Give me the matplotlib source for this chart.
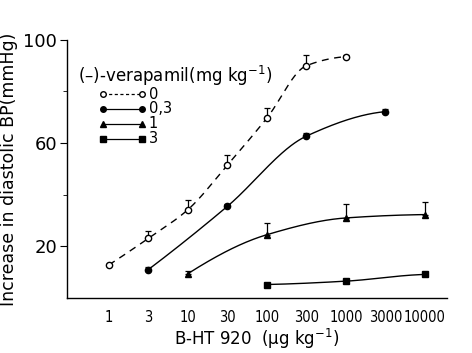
import numpy as np
import matplotlib
matplotlib.use("Agg")
import matplotlib.pyplot as plt

# ---- data ----
x_labels = ["1", "3", "10", "30", "100", "300", "1000", "3000", "10000"]

s0_x = [0, 1, 2, 3, 4, 5, 6]            # indices into x_labels
s0_y = [12.8, 23.1, 34.2, 51.5, 69.7, 90.0, 93.5]
s0_e = [0.0, 2.7, 3.6, 3.9, 3.9, 4.1, 0.7]

s1_x = [1, 3, 5, 7]
s1_y = [11.0, 35.5, 62.7, 72.2]
s1_e = [1.0, 1.0, 1.2, 1.2]

s2_x = [2, 4, 6, 8]
s2_y = [9.4, 24.5, 31.0, 32.3]
s2_e = [1.0, 4.5, 5.3, 4.9]

s3_x = [4, 6, 8]
s3_y = [5.2, 6.5, 9.1]
s3_e = [0.0, 1.0, 0.0]

legend_labels = ["0", "0,3", "1", "3"]


def pchip(x, y, xs):
    x = np.asarray(x, float); y = np.asarray(y, float)
    h = np.diff(x); d = np.diff(y) / h
    n = len(x)
    m = np.zeros(n)
    for k in range(1, n - 1):
        if d[k - 1] * d[k] > 0:
            w1 = 2 * h[k] + h[k - 1]; w2 = h[k] + 2 * h[k - 1]
            m[k] = (w1 + w2) / (w1 / d[k - 1] + w2 / d[k])
    m[-1] = d[-1] * 0.3
    if n > 2:
        m[0] = ((2 * h[0] + h[1]) * d[0] - h[0] * d[1]) / (h[0] + h[1])
        if np.sign(m[0]) != np.sign(d[0]):
            m[0] = 0
    else:
        m[0] = d[0]
    ys = np.empty_like(xs)
    for i, xv in enumerate(xs):
        k = min(np.searchsorted(x, xv, side="right") - 1, n - 2)
        t = (xv - x[k]) / h[k]
        h00 = 2 * t**3 - 3 * t**2 + 1; h10 = t**3 - 2 * t**2 + t
        h01 = -2 * t**3 + 3 * t**2; h11 = t**3 - t**2
        ys[i] = h00 * y[k] + h10 * h[k] * m[k] + h01 * y[k + 1] + h11 * h[k] * m[k + 1]
    return ys


plt.rcParams['font.family'] = ['DejaVu Sans']
fig = plt.figure(figsize=(4.72, 3.53), dpi=100)
ax = fig.add_axes([0.142, 0.156, 0.805, 0.731])

series = [
    (s0_x, s0_y, s0_e, 'o', 'white', (0, (5, 4))),
    (s1_x, s1_y, s1_e, 'o', 'black', '-'),
    (s2_x, s2_y, s2_e, '^', 'black', '-'),
    (s3_x, s3_y, s3_e, 's', 'black', '-'),
]
for xs, ys, es, mk, fc, ls in series:
    xx = np.linspace(xs[0], xs[-1], 200)
    yy = pchip(xs, ys, xx)
    ax.plot(xx, yy, color='black', lw=1.0, ls=ls)
    ax.errorbar(xs, ys, yerr=[np.zeros(len(es)), es], fmt='none', ecolor='black',
                elinewidth=0.9, capsize=2.5, capthick=0.9)
    ax.plot(xs, ys, ls='none', marker=mk, ms=5 if mk != 'o' else 4.5,
            mfc=fc, mec='black', mew=1.0)

ax.set_xlim(-1.06, 8.56)
ax.set_ylim(0, 100)
ax.spines['top'].set_visible(False)
ax.spines['right'].set_visible(False)
ax.spines['left'].set_linewidth(1.0)
ax.spines['bottom'].set_linewidth(1.0)
ax.set_xticks(range(len(x_labels)))
ax.set_xticklabels(x_labels, fontsize=10.5, fontstretch='condensed')
ax.tick_params(axis='x', length=0, pad=9)
ax.set_yticks([20, 60, 100])
ax.set_yticks([40, 80], minor=True)
ax.tick_params(axis='y', which='major', length=5, labelsize=13, pad=2)
ax.tick_params(axis='y', which='minor', length=3)

ax.set_ylabel("Increase in diastolic BP(mmHg)", fontsize=12.5, labelpad=4)
ax.set_xlabel("B-HT 920  (μg kg$^{-1}$)", fontsize=12, labelpad=1)

# legend
ax.text(0.03, 0.86, "(–)-verapamil(mg kg$^{-1}$)", transform=ax.transAxes,
        fontsize=12, va='center', ha='left')
leg_styles = [('o', 'white', (0, (2.5, 2))), ('o', 'black', '-'), ('^', 'black', '-'), ('s', 'black', '-')]
rows_y = [0.79, 0.733, 0.675, 0.617]
for (mk, fc, ls), ry, lab in zip(leg_styles, rows_y, legend_labels):
    ax.plot([0.095, 0.198], [ry, ry], transform=ax.transAxes, color='black', lw=0.9, ls=ls)
    ax.plot([0.095, 0.198], [ry, ry], transform=ax.transAxes, ls='none', marker=mk,
            ms=4 if mk == 'o' else 4.5, mfc=fc, mec='black', mew=1.0)
    ax.text(0.215, ry, lab, transform=ax.transAxes, fontsize=10.5, va='center', ha='left')

fig.savefig("out.png", dpi=100)
